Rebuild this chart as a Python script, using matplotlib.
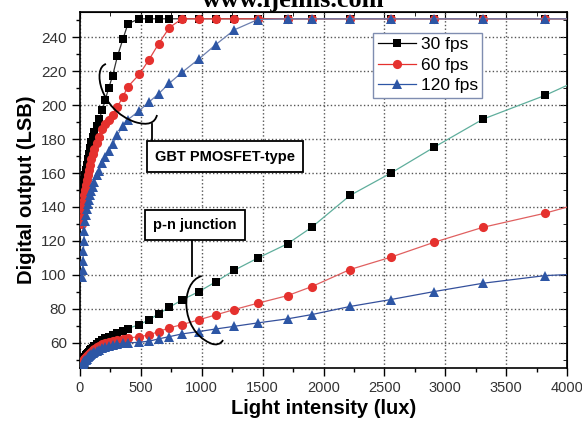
import numpy as np
import matplotlib
matplotlib.use("Agg")
import matplotlib.pyplot as plt
from matplotlib.lines import Line2D
from matplotlib.path import Path
from matplotlib.patches import PathPatch

plt.rcParams['font.family'] = ['Liberation Sans', 'DejaVu Sans']

# light intensity (lux), shared by all curves; last point is where the line meets the axis edge
lux = [20, 22, 25, 28, 32, 36, 41, 47, 54, 62, 71, 81, 92, 104, 118, 137, 156, 183, 208, 235,
       268, 307, 352, 394, 487, 567, 646, 734, 838, 975, 1114, 1268, 1459, 1705, 1903, 2218,
       2554, 2910, 3310, 3819, 4000]

# GBT PMOSFET-type sensor
gbt_30 = [138, 142, 146, 150, 153, 156, 159, 162, 165, 168, 171.5, 175, 178.5, 181.5, 184.5, 188,
          191.6, 197, 203.3, 210, 217.4, 228.8, 238.9, 248.1, 251, 251, 251, 251, 251, 251, 251,
          251, 251, 251, 251, 251, 251, 251, 251, 251, 251]
gbt_60 = [130, 134, 138, 141, 144, 147, 150, 153, 156, 159, 162, 165, 168, 171, 174, 178,
          181.5, 186, 189, 191.5, 194, 199, 205, 211, 218.2, 226.9, 236.3, 245.8, 251, 251, 251,
          251, 251, 251, 251, 251, 251, 251, 251, 251, 251]
gbt_120 = [98.5, 103, 108, 114, 120, 126, 132, 135.5, 139, 141.5, 144, 147, 149.5, 151.7, 155,
           158.7, 161.5, 166, 169.7, 173, 177, 182.3, 188, 191.5, 196.8, 201.9, 206.8, 213, 219.4,
           227.2, 235.7, 244.5, 250.5, 251, 251, 251, 251, 251, 251, 251, 251]

# p-n junction sensor
pn_30 = [48.5, 49, 49.5, 50, 50.5, 51, 51.7, 52.4, 53.1, 53.8, 54.6, 55.4, 56.2, 57, 58, 59.2,
         60.2, 61.5, 62.5, 63.5, 64.5, 65.8, 67, 68.3, 70.6, 73.4, 77, 80.8, 85.2, 90, 95.8,
         102.7, 109.8, 118.3, 128, 146.8, 160, 175.3, 191.8, 205.8, 211.7]
pn_60 = [48, 48.4, 48.8, 49.2, 49.7, 50.2, 50.8, 51.4, 52, 52.6, 53.3, 54, 54.7, 55.4, 56.2, 57.2,
         58, 59, 59.8, 60.5, 61.1, 61.7, 62.2, 62.6, 63.5, 64.5, 66.5, 68.7, 70.6, 73.4, 76.3,
         79.5, 83.2, 87.7, 93, 103.1, 110.4, 119.2, 128, 136.3, 139.9]
pn_120 = [47, 47.3, 47.7, 48.1, 48.5, 49, 49.5, 50, 50.6, 51.2, 51.8, 52.4, 53, 53.6, 54.3, 55.1,
          55.8, 56.7, 57.4, 58, 58.5, 59, 59.5, 59.8, 60.2, 60.8, 62.2, 63.5, 65.1, 66.5, 68,
          69.6, 71.6, 74, 76.5, 81.3, 85.4, 90.1, 95, 99.5, 100.1]

labels = ["30 fps", "60 fps", "120 fps"]
mk_colors = ["#000000", "#e5312e", "#2d56a5"]
markers = ["s", "o", "^"]
msizes = [6.4, 6.6, 7.4]

fig = plt.figure(figsize=(5.82, 4.28), dpi=100)
ax = fig.add_axes([80/582, 1-368/428, 487/582, 356/428])

every = slice(0, len(lux) - 1)
series = [(gbt_30, pn_30, "#333333", "#5fae9c"),
          (gbt_60, pn_60, "#e04848", "#e06060"),
          (gbt_120, pn_120, "#6c7fae", "#34509c")]
for i, (up, low, c_up, c_low) in enumerate(series):
    ax.plot(lux, up, color=c_up, lw=0.9, marker=markers[i], ms=msizes[i], mfc=mk_colors[i],
            mec=mk_colors[i], mew=0, markevery=every, zorder=3+i)
    ax.plot(lux, low, color=c_low, lw=0.9, marker=markers[i], ms=msizes[i], mfc=mk_colors[i],
            mec=mk_colors[i], mew=0, markevery=every, zorder=3+i)

ax.set_xlim(0, 4000)
ax.set_ylim(45, 255)
ax.set_xticks(np.arange(0, 4001, 500))
ax.set_xticks(np.arange(0, 4001, 250), minor=True)
ax.set_yticks(np.arange(60, 241, 20))
ax.set_yticks(np.arange(50, 255, 10), minor=True)
ax.grid(True, which='major', ls=':', color='#555555', lw=1.0)
ax.tick_params(which='both', direction='out', top=False, right=False,
               labelcolor='#333333', width=1.0)
ax.tick_params(axis='x', labelsize=10.5)
ax.tick_params(axis='y', labelsize=11)
ax.tick_params(which='major', length=6)
ax.tick_params(which='minor', length=3)
for s in ax.spines.values():
    s.set_linewidth(1.2)

# inward ticks on top and right
ax2 = ax.secondary_yaxis('right')
ax2.set_yticks(np.arange(60, 241, 20))
ax2.set_yticks(np.arange(50, 255, 10), minor=True)
ax2.tick_params(which='both', direction='in', labelright=False)
ax2.tick_params(which='major', length=5)
ax2.tick_params(which='minor', length=3)
ax3 = ax.secondary_xaxis('top')
ax3.set_xticks(np.arange(0, 4001, 500))
ax3.set_xticks(np.arange(0, 4001, 250), minor=True)
ax3.tick_params(which='both', direction='in', labeltop=False)
ax3.tick_params(which='major', length=5)
ax3.tick_params(which='minor', length=3)

ax.set_xlabel("Light intensity (lux)", fontsize=14.5, fontweight='bold', labelpad=3)
ax.set_ylabel("Digital output (LSB)", fontsize=14.5, fontweight='bold', labelpad=4)

handles = [Line2D([], [], color=mk_colors[i], lw=0.9, marker=markers[i],
                  ms=msizes[i], mew=0) for i in range(3)]
leg = ax.legend(handles, labels, loc='upper left', bbox_to_anchor=(0.602, 0.941),
                borderaxespad=0, fontsize=12.5, handlelength=2.2, handletextpad=0.3,
                labelspacing=0.3, borderpad=0.25, fancybox=False, framealpha=1)
leg.get_frame().set_edgecolor('#7f8db0')
leg.get_frame().set_linewidth(1.0)
leg.set_zorder(10)


def px(x, y):
    return ((x - 80) / 487, (368 - y) / 356)


box = dict(boxstyle='square,pad=0.55', fc='white', ec='black', lw=1.3)
ax.text(*px(224.7, 156.5), "GBT PMOSFET-type", transform=ax.transAxes, ha='center',
        va='center', fontsize=10.5, fontweight='bold', bbox=box, zorder=9)
ax.text(*px(195.2, 225), "p-n junction", transform=ax.transAxes, ha='center',
        va='center', fontsize=10.5, fontweight='bold', bbox=box, zorder=9)

# brackets pointing at the curve groups
C4 = Path.CURVE4
bracket1 = [px(106, 64), px(92, 68), px(100, 110), px(135, 122),
            px(148, 126), px(155, 123), px(157, 115)]
bracket2 = [px(201.7, 276), px(180, 282), px(180, 330), px(210, 343),
            px(216, 346), px(221, 344), px(223, 340)]
for pts in (bracket1, bracket2):
    path = Path(pts, [Path.MOVETO, C4, C4, C4, C4, C4, C4])
    ax.add_patch(PathPatch(path, fc='none', ec='black', lw=1.3, transform=ax.transAxes,
                           zorder=9))
ax.plot(*zip(px(151.7, 124), px(151.7, 140)), color='black', lw=1.3,
        transform=ax.transAxes, zorder=9)
ax.plot(*zip(px(191.7, 241), px(191.7, 276)), color='black', lw=1.3,
        transform=ax.transAxes, zorder=9)

# site watermark, cut off by the top edge as in the source image
fig.text(293/582, 1 - 6.5/428, "www.ijelms.com", ha='center', va='baseline', fontsize=19,
         fontweight='bold', family='Liberation Serif')

fig.savefig("out.png", dpi=100)
